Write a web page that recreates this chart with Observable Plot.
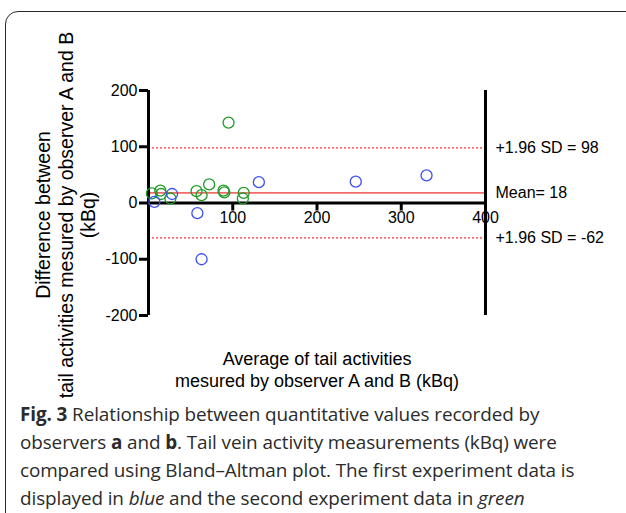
<!DOCTYPE html>
<html>
<head>
<meta charset="utf-8">
<script src="https://cdn.jsdelivr.net/npm/d3@7"></script>
<script src="https://cdn.jsdelivr.net/npm/@observablehq/plot@0.6"></script>
<style>
  html, body { margin: 0; padding: 0; background: #fff; width: 626px; height: 513px; overflow: hidden; }
  #box { position: absolute; left: 5px; top: 11px; width: 700px; height: 600px; border: 1.6px solid #2a2a2a; border-radius: 13px; }
  #chart { position: absolute; left: 0; top: 0; }
  #caption { position: absolute; left: 20px; top: 400px; width: 606px; white-space: nowrap; font-family: "Open Sans", sans-serif; font-size: 18.9px; line-height: 28px; color: #2b2b2b; letter-spacing: -0.1px; }
  #caption b { font-weight: 700; }
</style>
</head>
<body>
<div id="box"></div>
<div id="chart"></div>
<div id="caption"><b>Fig. 3</b> Relationship between quantitative values recorded by<br>observers <b>a</b> and <b>b</b>. Tail vein activity measurements (kBq) were<br>compared using Bland–Altman plot. The first experiment data is<br>displayed in <i>blue</i> and the second experiment data in <i>green</i></div>
<script>
// Experiment 1 (blue): average, difference
const blueAvg  = [7, 28, 58, 63, 131, 246, 330];
const blueDiff = [2, 16, -18, -100, 37, 38, 49];
// Experiment 2 (green): average, difference
const greenAvg  = [4, 14, 15, 26, 57, 63, 72, 89, 90, 95, 112, 113];
const greenDiff = [17, 22, 16, 8, 21, 14, 33, 22, 19, 143, 8, 18];

const meanDiff = 18;
const upperLoA = 98;
const lowerLoA = -62;

const yTicks = [-200, -100, 0, 100, 200];
const xTicks = [100, 200, 300];
const xLabels = [100, 200, 300, 400];

const blue = blueAvg.map((x, i) => ({x, y: blueDiff[i]}));
const green = greenAvg.map((x, i) => ({x, y: greenDiff[i]}));
const annotations = [
  {y: upperLoA, text: "+1.96 SD = " + upperLoA},
  {y: meanDiff, text: "Mean= " + meanDiff},
  {y: lowerLoA, text: "+1.96 SD = " + lowerLoA}
];

const chart = Plot.plot({
  width: 626,
  height: 395,
  marginTop: 90,
  marginBottom: 80,
  marginLeft: 148,
  marginRight: 141,
  style: {fontFamily: "'Liberation Sans', Arial, sans-serif", color: "#000", background: "transparent", overflow: "visible"},
  x: {domain: [0, 400], axis: null},
  y: {domain: [-200, 200], axis: null},
  marks: [
    Plot.axisY(yTicks, {tickSize: 9, tickPadding: 2, fontSize: 16, strokeWidth: 3, color: "#000", label: null, tickFormat: d => String(d)}),
    Plot.text(xLabels, {x: d => d, y: 0, dy: 15, text: d => String(d), fontSize: 16, fill: "#000"}),
    Plot.ruleX(xTicks, {x: d => d, y1: 0, y2: 0, insetBottom: -8, strokeWidth: 3, stroke: "#000"}),
    Plot.ruleY([upperLoA, lowerLoA], {x1: 0, x2: 400, stroke: "#ff3333", strokeWidth: 1.4, strokeDasharray: "2,2"}),
    Plot.ruleY([meanDiff], {x1: 0, x2: 400, stroke: "#f46a6a", strokeWidth: 1.6}),
    Plot.ruleY([0], {x1: 0, x2: 400, strokeWidth: 3, stroke: "#000"}),
    Plot.ruleX([0, 400], {y1: -200, y2: 200, strokeWidth: 3, stroke: "#000"}),
    Plot.dot(green, {x: "x", y: "y", r: 5.5, stroke: "#1f9a26", strokeWidth: 1.3, fill: "none"}),
    Plot.dot(blue, {x: "x", y: "y", r: 5.5, stroke: "#3b4ff5", strokeWidth: 1.3, fill: "none"}),
    Plot.text(annotations, {x: 400, y: "y", dx: 10, text: "text", textAnchor: "start", fontSize: 16, fill: "#000"}),
    Plot.text(["Difference between\ntail activities mesured by observer A and B\n(kBq)"], {frameAnchor: "left", textAnchor: "middle", dx: -83, dy: 12, rotate: -90, fontSize: 19.5, lineHeight: 1.14, fill: "#000"}),
    Plot.text(["Average of tail activities\nmesured by observer A and B (kBq)"], {frameAnchor: "bottom", dy: 71, fontSize: 18, lineHeight: 1.2, fill: "#000"})
  ]
});
document.getElementById("chart").appendChild(chart);
</script>
</body>
</html>
